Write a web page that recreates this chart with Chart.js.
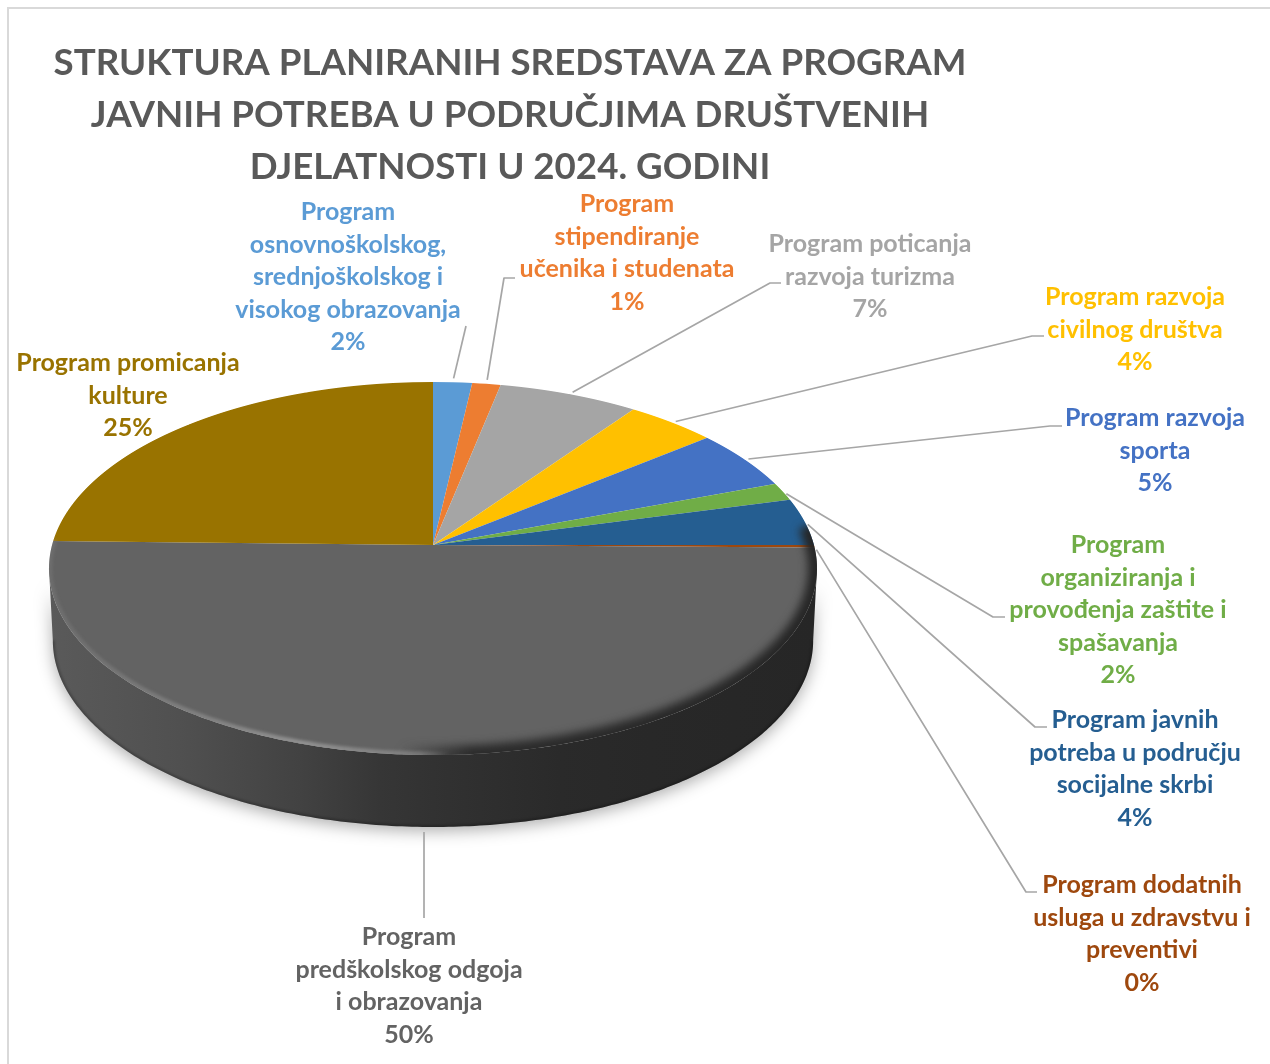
<!DOCTYPE html>
<html>
<head>
<meta charset="utf-8">
<style>html,body{margin:0;padding:0;background:#fff;overflow:hidden}canvas{display:block}</style>
<script src="https://cdn.jsdelivr.net/npm/chart.js@4/dist/chart.umd.min.js"></script>
</head>
<body>
<canvas id="c" width="1270" height="1064"></canvas>
<script>
const titleLines = [
  "STRUKTURA PLANIRANIH SREDSTAVA ZA PROGRAM",
  "JAVNIH POTREBA U PODRUČJIMA DRUŠTVENIH",
  "DJELATNOSTI U 2024. GODINI"
];
const categories = [
  ["Program", "osnovnoškolskog,", "srednjoškolskog i", "visokog obrazovanja"],
  ["Program", "stipendiranje", "učenika i studenata"],
  ["Program poticanja", "razvoja turizma"],
  ["Program razvoja", "civilnog društva"],
  ["Program razvoja", "sporta"],
  ["Program", "organiziranja i", "provođenja zaštite i", "spašavanja"],
  ["Program javnih", "potreba u području", "socijalne skrbi"],
  ["Program dodatnih", "usluga u zdravstvu i", "preventivi"],
  ["Program", "predškolskog odgoja", "i obrazovanja"],
  ["Program promicanja", "kulture"]
];
const values = [1.85, 1.35, 6.65, 4.3, 5.2, 1.55, 4.1, 0.22, 50.12, 24.66];
const colors = ["#5b9bd5", "#ed7d31", "#a5a5a5", "#ffc000", "#4472c4", "#70ad47", "#255e91", "#9e480e", "#636363", "#997300"];
const labelColors = ["#5b9bd5", "#ed7d31", "#a5a5a5", "#ffc000", "#4472c4", "#70ad47", "#255e91", "#9e480e", "#636363", "#997300"];

// label layout: centre x, centre y of first line, leader elbow, leader end
const labelLayout = [
  {x: 348,  y: 212, elbow: [466, 326]},
  {x: 627,  y: 204, elbow: [504, 278], end: [515, 278]},
  {x: 870,  y: 244, elbow: [770, 283], end: [781, 283]},
  {x: 1135, y: 297, elbow: [1032, 336], end: [1044, 336]},
  {x: 1155, y: 418, elbow: [1050, 426], end: [1062, 426]},
  {x: 1118, y: 545, elbow: [993, 617], end: [1005, 617]},
  {x: 1135, y: 720, elbow: [1035, 727], end: [1047, 727]},
  {x: 1142, y: 885, elbow: [1026, 892], end: [1037, 892]},
  {x: 409,  y: 937, elbow: [424, 918], vertical: true},
  {x: 128,  y: 363}
];
const lineStep = 32.5;
const labelFont = 'bold 25px Lato, Carlito, sans-serif';
const titleFont = 'bold 36.7px Lato, Carlito, sans-serif';

// perspective of the tilted disc: vertical reach above and below the apex, half-width, wall height
const reachUp = 163, reachDown = 210, halfWidth = 384, wallHeight = 72;
const B = -(reachDown - reachUp) / (reachDown + reachUp);
const A = reachUp * (1 - B);
const C = halfWidth * Math.sqrt(1 - B * B);

function project(arc, theta, h) {
  const t = -Math.cos(theta), u = Math.sin(theta), w = 1 + B * t;
  return [arc.x + (1 - 0.01 * h) * C * u / w, arc.y + A * t / w + wallHeight * h];
}
function tracePath(ctx, arc, a0, a1, h, start) {
  const n = 240;
  for (let i = 0; i <= n; i++) {
    const p = project(arc, a0 + (a1 - a0) * i / n, h);
    if (i === 0 && start) ctx.moveTo(p[0], p[1]); else ctx.lineTo(p[0], p[1]);
  }
}
function xGradient(ctx, stops) {
  const g = ctx.createLinearGradient(50, 0, 817, 0);
  stops.forEach(s => g.addColorStop((s[0] - 50) / 767, s[1]));
  return g;
}

const pie3d = {
  id: 'pie3d',
  beforeDraw(chart) {
    const ctx = chart.ctx;
    ctx.save();
    ctx.strokeStyle = '#d9d9d9';
    ctx.lineWidth = 2;
    ctx.strokeRect(8, 8, 1300, 1100);
    ctx.fillStyle = '#595959';
    ctx.font = titleFont;
    ctx.textAlign = 'center';
    ctx.textBaseline = 'middle';
    titleLines.forEach((s, i) => ctx.fillText(s, 510, 63 + i * 52));
    ctx.restore();
  },
  beforeDatasetDraw() { return false; },
  afterDatasetsDraw(chart) {
    const ctx = chart.ctx, arcs = chart.getDatasetMeta(0).data, first = arcs[0];
    const cx = first.x, cy = first.y, R = first.outerRadius;
    const tTan = -B, thetaTan = Math.acos(-tTan);

    // side wall with soft shadow
    ctx.save();
    ctx.beginPath();
    tracePath(ctx, first, thetaTan, 2 * Math.PI - thetaTan, 0, true);
    tracePath(ctx, first, 2 * Math.PI - thetaTan, thetaTan, 1, false);
    ctx.closePath();
    ctx.shadowColor = 'rgba(0,0,0,0.32)';
    ctx.shadowBlur = 16;
    ctx.shadowOffsetY = 4;
    ctx.fillStyle = xGradient(ctx, [[50, '#5a5a5a'], [180, '#505050'], [300, '#424242'], [380, '#363636'], [433, '#323232'], [560, '#2a2a2a'], [650, '#282828'], [817, '#262626']]);
    ctx.fill();
    ctx.shadowColor = 'transparent';
    ctx.clip();
    ctx.beginPath();
    tracePath(ctx, first, thetaTan, 2 * Math.PI - thetaTan, 1, true);
    ctx.strokeStyle = 'rgba(0,0,0,0.22)';
    ctx.lineWidth = 4;
    ctx.filter = 'blur(1px)';
    ctx.stroke();
    ctx.restore();

    // top face: the library's arcs, row by row through the perspective
    for (let y = Math.floor(cy - reachUp) - 1; y <= Math.ceil(cy + reachDown) + 1; y++) {
      const dy = y + 0.5 - cy, t = dy / (A - B * dy), w = 1 + B * t;
      if (Math.abs(t) > 1.01) continue;
      const s = C / (R * w), k = (A / R) / (w * w), v = t * R;
      ctx.save();
      ctx.beginPath();
      ctx.rect(0, y, 1270, 1);
      ctx.clip();
      ctx.setTransform(s, 0, 0, k, cx - s * cx, cy + dy - k * (cy + v));
      arcs.forEach(a => a.draw(ctx));
      ctx.restore();
    }

    // bevel on the rim of the face
    ctx.save();
    ctx.beginPath();
    tracePath(ctx, first, 0, 2 * Math.PI, 0, true);
    ctx.closePath();
    ctx.clip();
    const a0 = 84 * Math.PI / 180, a1 = 272 * Math.PI / 180;
    ctx.beginPath();
    tracePath(ctx, first, a0, a1, 0, true);
    ctx.lineCap = 'butt';
    ctx.filter = 'blur(4px)';
    ctx.lineWidth = 18;
    ctx.strokeStyle = xGradient(ctx, [[50, 'rgba(38,38,38,0)'], [400, 'rgba(38,38,38,0)'], [470, 'rgba(38,38,38,.9)'], [817, 'rgba(38,38,38,1)']]);
    ctx.stroke();
    ctx.filter = 'blur(1.5px)';
    ctx.lineWidth = 7;
    ctx.strokeStyle = xGradient(ctx, [[50, 'rgba(140,140,140,.25)'], [300, 'rgba(150,150,150,.9)'], [420, 'rgba(150,150,150,.5)'], [450, 'rgba(150,150,150,0)'], [817, 'rgba(150,150,150,0)']]);
    ctx.stroke();
    ctx.restore();

    // leader lines
    ctx.save();
    ctx.strokeStyle = '#a6a6a6';
    ctx.lineWidth = 1.7;
    ctx.lineJoin = 'round';
    arcs.forEach((a, i) => {
      const l = labelLayout[i];
      if (!l.elbow) return;
      const theta = (a.startAngle + a.endAngle) / 2 + Math.PI / 2;
      const front = Math.cos(theta) < -0.5;
      const p = project(a, theta, front ? 1 : 0);
      const dx = l.elbow[0] - p[0], dy = l.elbow[1] - p[1], d = Math.hypot(dx, dy);
      let sx = p[0] + dx / d * 4, sy = p[1] + dy / d * 4;
      if (l.vertical) { sx = l.elbow[0]; sy = p[1] + 5; }
      ctx.beginPath();
      ctx.moveTo(sx, sy);
      ctx.lineTo(l.elbow[0], l.elbow[1]);
      if (l.end) ctx.lineTo(l.end[0], l.end[1]);
      ctx.stroke();
    });
    ctx.restore();

    // data labels
    ctx.save();
    ctx.font = labelFont;
    ctx.textAlign = 'center';
    ctx.textBaseline = 'middle';
    categories.forEach((lines, i) => {
      const l = labelLayout[i];
      ctx.fillStyle = labelColors[i];
      const all = lines.concat([Math.round(values[i]) + '%']);
      all.forEach((s, j) => ctx.fillText(s, l.x, l.y + j * lineStep));
    });
    ctx.restore();
  }
};

new Chart(document.getElementById('c'), {
  type: 'pie',
  data: {
    labels: categories.map(c => c.join(' ')),
    datasets: [{data: values, backgroundColor: colors, borderWidth: 0}]
  },
  options: {
    responsive: false,
    animation: false,
    rotation: 0,
    layout: {padding: {left: 50, right: 454, top: 162, bottom: 136}},
    plugins: {legend: {display: false}, tooltip: {enabled: false}, title: {display: false}},
    events: []
  },
  plugins: [pie3d]
});
</script>
</body>
</html>
